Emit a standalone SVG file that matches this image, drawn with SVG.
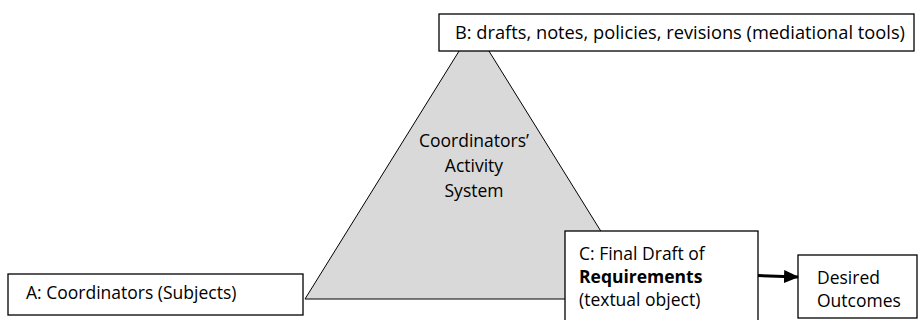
<svg xmlns="http://www.w3.org/2000/svg" width="922" height="320" viewBox="0 0 922 320">
<style>
.box{fill:#fff;stroke:#000;stroke-width:1.3}
text{font-family:"Open Sans","Liberation Sans",sans-serif;font-size:17.5px;fill:#000}
.c{text-anchor:middle}
</style>
<defs>
<marker id="ah" markerWidth="15" markerHeight="13" refX="14" refY="6.5" orient="auto" markerUnits="userSpaceOnUse"><path d="M0,0 L15,6.5 L0,13 Z" fill="#000"/></marker>
</defs>
<g id="triangle">
<polygon points="474,27 305,299 643,299" fill="#d9d9d9" stroke="#000" stroke-width="1"/>
<text class="c" x="474" y="147">Coordinators’</text>
<text class="c" x="474" y="172">Activity</text>
<text class="c" x="474" y="197">System</text>
</g>
<g id="nodeB">
<rect class="box" x="439" y="14" width="475" height="37"/>
<text x="455" y="39" textLength="450" lengthAdjust="spacingAndGlyphs">B: drafts, notes, policies, revisions (mediational tools)</text>
</g>
<g id="nodeA">
<rect class="box" x="8" y="274" width="295" height="41"/>
<text x="26" y="299">A: Coordinators (Subjects)</text>
</g>
<g id="nodeC">
<rect class="box" x="565" y="231" width="193" height="95"/>
<text x="579" y="260">C: Final Draft of</text>
<text x="579" y="283" font-weight="bold">Requirements</text>
<text x="579" y="306">(textual object)</text>
</g>
<g id="nodeD">
<rect class="box" x="798" y="255" width="119" height="63"/>
<text x="817" y="284">Desired</text>
<text x="817" y="307">Outcomes</text>
</g>
<g id="connectors">
<line x1="758" y1="275.5" x2="798" y2="277" stroke="#000" stroke-width="3" marker-end="url(#ah)"/>
</g>
</svg>
